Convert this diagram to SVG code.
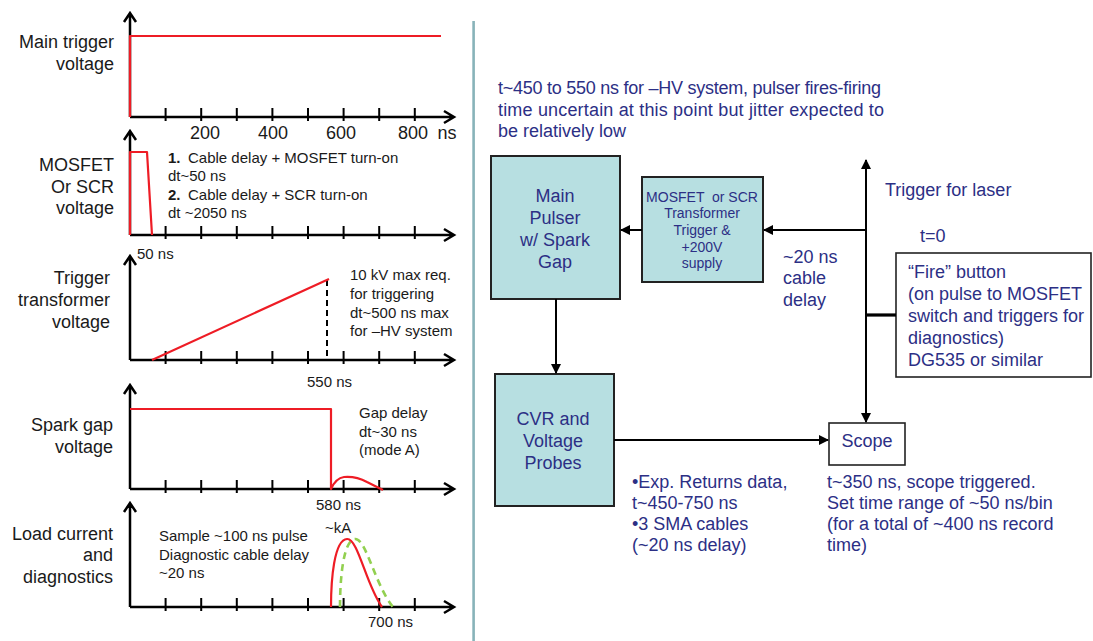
<svg xmlns="http://www.w3.org/2000/svg" width="1093" height="641" viewBox="0 0 1093 641">
<style>
text{font-family:"Liberation Sans",Arial,sans-serif}
.lbl{font-size:18px;fill:#1a1a1a;text-anchor:end}
.ann{font-size:15px;fill:#1a1a1a}
.tick{font-size:18px;fill:#1a1a1a;text-anchor:middle}
.ax{fill:none;stroke:#000;stroke-width:2.5}
.tk{stroke:#000;stroke-width:2}
.red{fill:none;stroke:#ee1c25;stroke-width:2.2;stroke-linejoin:round}
.grn{fill:none;stroke:#92d050;stroke-width:2.6;stroke-dasharray:7 5}
.box{fill:#b7dfe1;stroke:#222;stroke-width:2}
.wbox{fill:#fff;stroke:#222;stroke-width:1.6}
.nv{font-size:18px;fill:#2c2f85}
.nvc{font-size:18px;fill:#2c2f85;text-anchor:middle}
.sm{font-size:14px;fill:#2c2f85;text-anchor:middle}
.cn{fill:none;stroke:#000;stroke-width:2}
</style>
<defs>
<marker id="ah" markerWidth="10" markerHeight="10" refX="9" refY="5" orient="auto" markerUnits="userSpaceOnUse">
<path d="M0,0 L10,5 L0,10 Z" fill="#000"/>
</marker>
<g id="ticks">
<path class="tk" d="M165.6,-9V4M201.2,-9V4M236.8,-9V4M272.4,-9V4M308,-9V4M343.6,-9V4M379.2,-9V4M414.8,-9V4"/>
</g>
</defs>

<!-- divider -->
<rect x="472.3" y="21" width="2.6" height="620" fill="#88b3b9"/>

<!-- Plot 1 -->
<g id="plot-main-trigger">
<path class="ax" d="M130,117V13M124,22L130,13L136,22M130,117H454M444,111L454,117L444,123"/>
<use href="#ticks" transform="translate(0,117)"/>
<path class="red" d="M130,117V36H441"/>
<text class="lbl" x="114" y="48">Main trigger</text>
<text class="lbl" x="114" y="70">voltage</text>
<text class="tick" x="205" y="139">200</text>
<text class="tick" x="273" y="139">400</text>
<text class="tick" x="341" y="139">600</text>
<text class="tick" x="413" y="139">800</text>
<text class="tick" x="447" y="139">ns</text>
</g>

<!-- Plot 2 -->
<g id="plot-mosfet">
<path class="ax" d="M130,235V131M124,140L130,131L136,140M130,235H454M444,229L454,235L444,241"/>
<use href="#ticks" transform="translate(0,235)"/>
<path class="red" d="M130,235V152H147L152,235"/>
<text class="lbl" x="114" y="171">MOSFET</text>
<text class="lbl" x="114" y="193">Or SCR</text>
<text class="lbl" x="114" y="214">voltage</text>
<text class="ann" x="168" y="163"><tspan font-weight="bold">1.</tspan><tspan x="188">Cable delay + MOSFET turn-on</tspan></text>
<text class="ann" x="168" y="181">dt~50 ns</text>
<text class="ann" x="168" y="200"><tspan font-weight="bold">2.</tspan><tspan x="188">Cable delay + SCR turn-on</tspan></text>
<text class="ann" x="168" y="218">dt ~2050 ns</text>
<text class="ann" x="137" y="259">50 ns</text>
</g>

<!-- Plot 3 -->
<g id="plot-trigger-transformer">
<path class="ax" d="M130,360V256M124,265L130,256L136,265M130,360H454M444,354L454,360L444,366"/>
<use href="#ticks" transform="translate(0,360)"/>
<path d="M327,280V360" stroke="#000" stroke-width="2" stroke-dasharray="6 4"/>
<path class="red" d="M152,360L329,279"/>
<text class="lbl" x="110" y="284">Trigger</text>
<text class="lbl" x="110" y="306">transformer</text>
<text class="lbl" x="110" y="328">voltage</text>
<text class="ann" x="350" y="280">10 kV max req.</text>
<text class="ann" x="350" y="299">for triggering</text>
<text class="ann" x="350" y="318">dt~500 ns max</text>
<text class="ann" x="350" y="336">for –HV system</text>
<text class="ann" x="307" y="387">550 ns</text>
</g>

<!-- Plot 4 -->
<g id="plot-spark-gap">
<path class="ax" d="M130,489V385M124,394L130,385L136,394M130,489H454M444,483L454,489L444,495"/>
<use href="#ticks" transform="translate(0,489)"/>
<path class="red" d="M130,409H331V489Q336,478 344,477Q356,476 367,482L383,490"/>
<text class="lbl" x="113" y="431">Spark gap</text>
<text class="lbl" x="113" y="453">voltage</text>
<text class="ann" x="359" y="418">Gap delay</text>
<text class="ann" x="359" y="437">dt~30 ns</text>
<text class="ann" x="359" y="455">(mode A)</text>
<text class="ann" x="316" y="510">580 ns</text>
</g>

<!-- Plot 5 -->
<g id="plot-load-current">
<path class="ax" d="M130,607V503M124,512L130,503L136,512M130,607H454M444,601L454,607L444,613"/>
<use href="#ticks" transform="translate(0,607)"/>
<path class="grn" d="M340,607C340,580 343,540 355,539C366,538 375,585 393,607"/>
<path class="red" d="M331,607C331,580 334,540 347,539C358,538 366,585 382,607"/>
<text class="lbl" x="113" y="540">Load current</text>
<text class="lbl" x="113" y="561">and</text>
<text class="lbl" x="113" y="583">diagnostics</text>
<text class="ann" x="325" y="533">~kA</text>
<text class="ann" x="159" y="541">Sample ~100 ns pulse</text>
<text class="ann" x="159" y="560">Diagnostic cable delay</text>
<text class="ann" x="159" y="578">~20 ns</text>
<text class="ann" x="368" y="627">700 ns</text>
</g>

<!-- Right side -->
<g id="note-top">
<text class="nv" x="498" y="94" textLength="383" lengthAdjust="spacing">t~450 to 550 ns for –HV system, pulser fires-firing</text>
<text class="nv" x="498" y="115.5" textLength="386" lengthAdjust="spacing">time uncertain at this point but jitter expected to</text>
<text class="nv" x="498" y="137">be relatively low</text>
</g>

<g id="main-pulser">
<rect class="box" x="491" y="156" width="129" height="143"/>
<text class="nvc" x="555" y="202">Main</text>
<text class="nvc" x="555" y="224">Pulser</text>
<text class="nvc" x="555" y="246">w/ Spark</text>
<text class="nvc" x="555" y="268">Gap</text>
</g>

<g id="mosfet-trigger">
<rect class="box" x="642" y="177" width="121" height="105"/>
<text class="sm" x="702" y="202" xml:space="preserve">MOSFET  or SCR</text>
<text class="sm" x="702" y="218">Transformer</text>
<text class="sm" x="702" y="235">Trigger &amp;</text>
<text class="sm" x="702" y="252">+200V</text>
<text class="sm" x="702" y="268">supply</text>
</g>

<g id="cvr-probes">
<rect class="box" x="495" y="374" width="119" height="132"/>
<text class="nvc" x="553" y="425">CVR and</text>
<text class="nvc" x="553" y="447">Voltage</text>
<text class="nvc" x="553" y="469">Probes</text>
</g>

<g id="scope">
<rect class="wbox" x="829" y="423" width="76" height="42"/>
<text class="nvc" x="867" y="447">Scope</text>
</g>

<g id="fire-button">
<rect class="wbox" x="896" y="253" width="195" height="124"/>
<text class="nv" x="908" y="278">“Fire” button</text>
<text class="nv" x="908" y="300">(on pulse to MOSFET</text>
<text class="nv" x="908" y="322">switch and triggers for</text>
<text class="nv" x="908" y="344">diagnostics)</text>
<text class="nv" x="908" y="366">DG535 or similar</text>
</g>

<g id="labels-right">
<text class="nv" x="885" y="196">Trigger for laser</text>
<text class="nv" x="920" y="242">t=0</text>
<text class="nv" x="783" y="263">~20 ns</text>
<text class="nv" x="783" y="284">cable</text>
<text class="nv" x="783" y="306">delay</text>
<text class="nv" x="632" y="488">•Exp. Returns data,</text>
<text class="nv" x="632" y="509">t~450-750 ns</text>
<text class="nv" x="632" y="530">•3 SMA cables</text>
<text class="nv" x="632" y="551">(~20 ns delay)</text>
<text class="nv" x="827" y="488">t~350 ns, scope triggered.</text>
<text class="nv" x="827" y="509">Set time range of ~50 ns/bin</text>
<text class="nv" x="827" y="530">(for a total of ~400 ns record</text>
<text class="nv" x="827" y="551">time)</text>
</g>

<g id="connectors">
<path class="cn" d="M866,300V160" marker-end="url(#ah)"/>
<path class="cn" d="M866,230H764" marker-end="url(#ah)"/>
<path class="cn" d="M642,230H621" marker-end="url(#ah)"/>
<path class="cn" d="M556,299V373" marker-end="url(#ah)"/>
<path class="cn" d="M614,440H828" marker-end="url(#ah)"/>
<path class="cn" d="M866,300V422" marker-end="url(#ah)"/>
<path d="M866,315H896" stroke="#000" stroke-width="3.2"/>
</g>
</svg>
